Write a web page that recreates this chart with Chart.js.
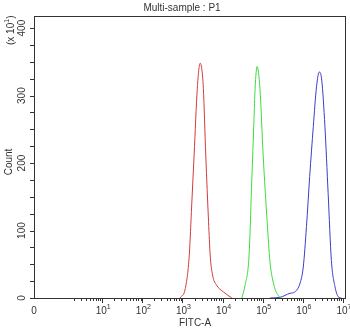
<!DOCTYPE html>
<html>
<head>
<meta charset="utf-8">
<script src="https://cdn.jsdelivr.net/npm/chart.js@4"></script>
<style>
  html, body { margin: 0; padding: 0; background: #fff; }
  #wrap { width: 350px; height: 331px; }
</style>
</head>
<body>
<div id="wrap"><canvas id="histChart"></canvas></div>
<script>
// x values are decades, log10(FITC-A); y values are counts (x 10)
const redX   = [2.94, 3.07, 3.17, 3.23, 3.29, 3.37, 3.44, 3.48, 3.52, 3.58, 3.65, 3.69, 3.75, 3.85, 4.02, 4.23];
const redY   = [0, 14, 64, 138, 212, 311, 348, 340, 311, 212, 113, 64, 34, 19, 9, 0];
const greenX = [4.48, 4.56, 4.66, 4.72, 4.78, 4.81, 4.86, 4.93, 5.01, 5.11, 5.18, 5.28, 5.41, 5.47];
const greenY = [0, 19, 64, 162, 261, 311, 343, 311, 212, 113, 54, 19, 2, 0];
const blueX  = [5.18, 5.43, 5.68, 5.80, 5.93, 6.01, 6.09, 6.17, 6.26, 6.34, 6.41, 6.47, 6.55, 6.63, 6.71, 6.80, 6.88, 6.96];
const blueY  = [0, 1, 7, 9, 22, 46, 106, 180, 254, 313, 335, 323, 254, 155, 56, 17, 2, 0];

const xDecades = [1, 2, 3, 4, 5, 6, 7];
const xZeroPos = -0.7;
const yLabels = [0, 100, 200, 300, 400];

function toPoints(xs, ys) {
    return xs.map((v, i) => ({ x: v, y: ys[i] }));
}

const FONT = '10px "Liberation Sans", Arial, sans-serif';
const TEXT = '#333';

const frameAndText = {
    id: 'frameAndText',
    afterDraw(chart) {
        const c = chart.ctx;
        const a = chart.chartArea;
        const xs = chart.scales.x, ys = chart.scales.y;
        c.save();
        // box
        c.strokeStyle = '#333';
        c.lineWidth = 1;
        c.strokeRect(Math.round(a.left) + 0.5, Math.round(a.top) + 0.5,
                     Math.round(a.right - a.left), Math.round(a.bottom - a.top));

        // y ticks
        c.beginPath();
        for (let v = 0; v <= 400; v += 25) {
            const py = Math.round(ys.getPixelForValue(v)) + 0.5;
            c.moveTo(a.left - 4, py);
            c.lineTo(a.left, py);
        }
        // x ticks: minor (2..9 in each decade) and major at each decade
        for (let d = 0; d < 7; d++) {
            for (let k = 2; k <= 9; k++) {
                const px = Math.round(xs.getPixelForValue(d + Math.log10(k))) + 0.5;
                c.moveTo(px, a.bottom);
                c.lineTo(px, a.bottom + 3);
            }
        }
        xDecades.forEach(d => {
            const px = Math.round(xs.getPixelForValue(d)) + 0.5;
            c.moveTo(px, a.bottom);
            c.lineTo(px, a.bottom + 5);
        });
        c.stroke();

        c.fillStyle = TEXT;
        c.font = FONT;
        // title
        c.textAlign = 'center';
        c.textBaseline = 'middle';
        c.fillText('Multi-sample : P1', 182, 8);

        // x labels
        const ly = a.bottom + 13;
        c.fillText('0', xs.getPixelForValue(xZeroPos), ly);
        xDecades.forEach(d => {
            const px = xs.getPixelForValue(d);
            c.font = FONT;
            const w1 = c.measureText('10').width;
            c.font = '7px "Liberation Sans", Arial, sans-serif';
            const w2 = c.measureText(String(d)).width;
            const left = px - (w1 + w2) / 2 + 1;
            c.textAlign = 'left';
            c.font = FONT;
            c.fillText('10', left, ly);
            c.font = '7px "Liberation Sans", Arial, sans-serif';
            c.fillText(String(d), left + w1, ly - 4);
        });
        c.font = FONT;
        c.textAlign = 'center';
        c.fillText('FITC-A', 195, 323);

        // y labels (rotated)
        yLabels.forEach(v => {
            const py = ys.getPixelForValue(v);
            c.save();
            c.translate(22, py);
            c.rotate(-Math.PI / 2);
            c.fillText(String(v), 0, 0);
            c.restore();
        });
        c.save();
        c.translate(9, 162);
        c.rotate(-Math.PI / 2);
        c.fillText('Count', 0, 0);
        c.restore();

        c.save();
        c.translate(11, 30);
        c.rotate(-Math.PI / 2);
        c.textAlign = 'left';
        c.fillText('(x 10', -15, 0);
        const w = c.measureText('(x 10').width;
        c.font = '7px "Liberation Sans", Arial, sans-serif';
        c.fillText('1', -15 + w, -4);
        c.font = FONT;
        c.fillText(')', -15 + w + 4, 0);
        c.restore();

        c.restore();
    }
};

const lineSet = (xs, ys, color) => ({
    data: toPoints(xs, ys),
    borderColor: color,
    borderWidth: 1,
    pointRadius: 0,
    fill: false,
    cubicInterpolationMode: 'monotone'
});

const ctx = document.getElementById('histChart').getContext('2d');
const histChart = new Chart(ctx, {
    type: 'line',
    data: {
        datasets: [
            lineSet(redX, redY, '#d03c3c'),
            lineSet(greenX, greenY, '#3cdc3c'),
            lineSet(blueX, blueY, '#3c3cc8')
        ]
    },
    options: {
        responsive: true,
        maintainAspectRatio: false,
        animation: false,
        layout: { padding: { top: 16, right: 5, left: 0, bottom: 0 } },
        plugins: { legend: { display: false }, tooltip: { enabled: false } },
        scales: {
            x: {
                type: 'linear',
                min: xZeroPos,
                max: 7.05,
                ticks: { display: false },
                grid: { display: false },
                border: { display: false },
                afterFit: s => { s.height = 33; }
            },
            y: {
                min: 0,
                max: 418,
                ticks: { display: false },
                grid: { display: false },
                border: { display: false },
                afterFit: s => { s.width = 34; }
            }
        }
    },
    plugins: [frameAndText]
});
</script>
</body>
</html>
